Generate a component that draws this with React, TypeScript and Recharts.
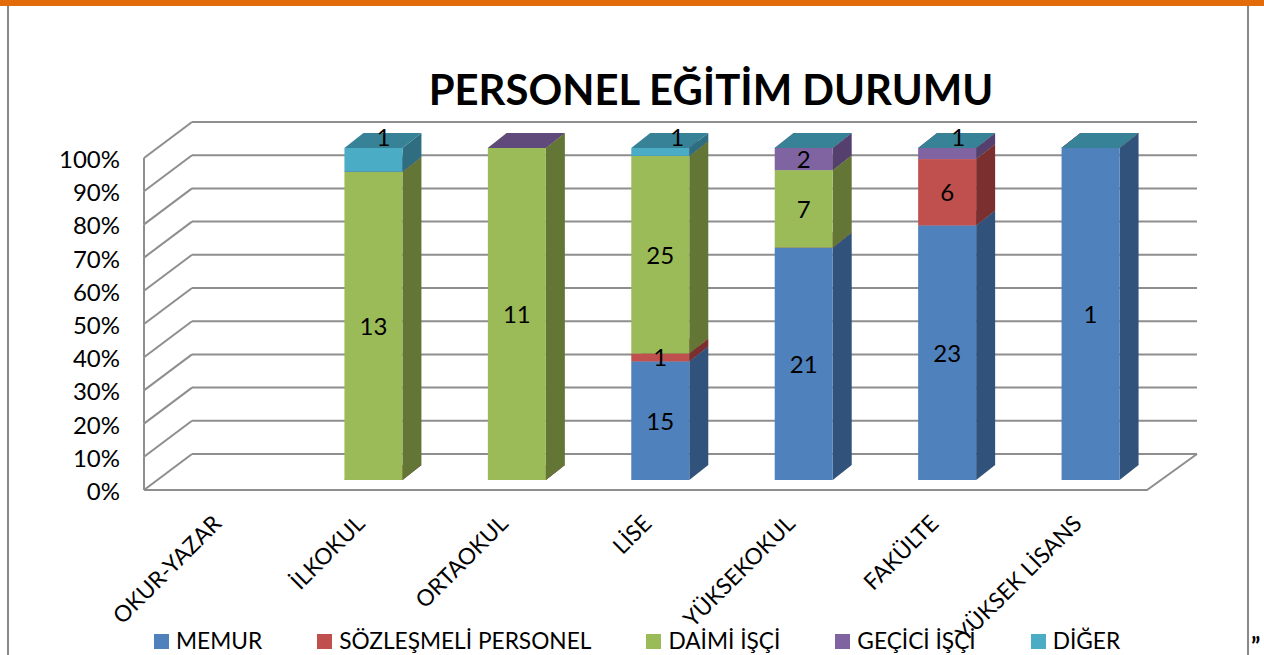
import React from 'react';
import { BarChart, Bar, XAxis, YAxis, CartesianGrid, Legend, LabelList } from 'recharts';

const categories = ['OKUR-YAZAR', 'İLKOKUL', 'ORTAOKUL', 'LİSE', 'YÜKSEKOKUL', 'FAKÜLTE', 'YÜKSEK LİSANS'];
const memur = [null, 0, 0, 15, 21, 23, 1];
const sozlesmeli = [null, 0, 0, 1, 0, 6, 0];
const daimi = [null, 13, 11, 25, 7, 0, 0];
const gecici = [null, 0, 0, 0, 2, 1, 0];
const diger = [null, 1, null, 1, 0, 0, 0];
const yTicks = [0, 0.1, 0.2, 0.3, 0.4, 0.5, 0.6, 0.7, 0.8, 0.9, 1];

const data = categories.map((name, i) => ({
  name,
  memur: memur[i],
  sozlesmeli: sozlesmeli[i],
  daimi: daimi[i],
  gecici: gecici[i],
  diger: diger[i],
}));

const seriesList = [
  { key: 'memur', name: 'MEMUR', fill: '#4F81BD', side: '#31527A', top: '#3F6897' },
  { key: 'sozlesmeli', name: 'SÖZLEŞMELİ PERSONEL', fill: '#C0504D', side: '#7B2F2E', top: '#9A403E' },
  { key: 'daimi', name: 'DAİMİ İŞÇİ', fill: '#9BBB59', side: '#647636', top: '#7C9647' },
  { key: 'gecici', name: 'GEÇİCİ İŞÇİ', fill: '#8064A2', side: '#553F6F', top: '#604A7B' },
  { key: 'diger', name: 'DİĞER', fill: '#4BACC6', side: '#2F6E80', top: '#388297' },
];

const FONT = 'Lato, sans-serif';
const GRID = '#8E8E8E';
const DEPTH_X = 19;
const DEPTH_Y = 15;
const PLOT_TOP = 148;

// sideways shift of the small "1" labels that Excel pushed onto the top face
const labelShift: Record<string, number> = { 'İLKOKUL': 10, 'LİSE': 17, 'FAKÜLTE': 11 };

const Box3D = ({ x, y, width, height, series, raw }: any) => {
  if (raw == null) return null;
  const r = x + width;
  const b = y + height;
  return (
    <g>
      <polygon points={`${r},${y} ${r + DEPTH_X},${y - DEPTH_Y} ${r + DEPTH_X},${b - DEPTH_Y} ${r},${b}`} fill={series.side} />
      <polygon points={`${x},${y} ${x + DEPTH_X},${y - DEPTH_Y} ${r + DEPTH_X},${y - DEPTH_Y} ${r},${y}`} fill={series.top} />
      <rect x={x} y={y} width={width} height={height} fill={series.fill} />
    </g>
  );
};

const GridLine = ({ y1 }: any) => {
  const isTop = y1 <= PLOT_TOP + 1;
  const isBottom = y1 >= 479;
  return (
    <g stroke={GRID} strokeWidth={2} fill="none">
      <line x1={192} x2={1197} y1={y1 - 26} y2={y1 - 26} />
      <line x1={144} x2={192} y1={y1 + 10} y2={y1 - 26} />
      {!isTop && <line x1={144} x2={144} y1={y1 + 10} y2={y1 + 10 - 33.2} />}
      {isBottom && <polyline points={`144,${y1 + 10} 1147,${y1 + 10} 1197,${y1 - 26}`} />}
    </g>
  );
};

const YTick = ({ y, payload }: any) => (
  <text x={120} y={y + 11} dy={9} textAnchor="end" fontFamily={FONT} fontSize={24} fill="#000">
    {`${Math.round(payload.value * 100)}%`}
  </text>
);

const XTick = ({ x, payload }: any) => (
  <text
    transform={`translate(${x - 7},${525}) rotate(-45)`}
    textAnchor="end"
    fontFamily={FONT}
    fontSize={22.6}
    fill="#000"
  >
    {payload.value}
  </text>
);

const makeLabel = (key: string) => (props: any) => {
  const { x, y, width, height, value, index } = props;
  if (!value) return null;
  const lifted = value === 1 && (key === 'gecici' || key === 'diger');
  const cx = x + width / 2 + (lifted ? labelShift[categories[index]] ?? 0 : 0);
  const cy = lifted ? PLOT_TOP - 11 : y + height / 2;
  return (
    <text x={cx} y={cy} dy={9} textAnchor="middle" fontFamily={FONT} fontSize={24} fill="#000">
      {value}
    </text>
  );
};

const LegendRow = ({ payload }: any) => (
  <div style={{ display: 'flex', gap: 55, paddingLeft: 154, fontFamily: FONT, fontSize: 22.7, color: '#000', lineHeight: '26px' }}>
    {(payload || []).map((item: any) => (
      <div key={item.value} style={{ display: 'flex', alignItems: 'center', gap: 7 }}>
        <span style={{ width: 15, height: 15, background: item.color, display: 'inline-block' }} />
        <span>{item.value}</span>
      </div>
    ))}
  </div>
);

export default function App() {
  return (
    <div style={{ position: 'fixed', left: 0, top: 0, width: 1264, height: 655, background: '#fff', overflow: 'hidden' }}>
      <div style={{ position: 'absolute', left: 0, top: 0, width: 1264, height: 6, background: '#E36C0A' }} />
      <div style={{ position: 'absolute', left: 7, top: 6, width: 2, height: 649, background: '#888' }} />
      <div style={{ position: 'absolute', left: 1247, top: 6, width: 2, height: 649, background: '#888' }} />
      <div style={{ position: 'absolute', left: 0, top: 62, width: 1422, textAlign: 'center', fontFamily: FONT, fontWeight: 700, fontSize: 41.8, lineHeight: '54px', color: '#000' }}>
        PERSONEL EĞİTİM DURUMU
      </div>
      <div style={{ position: 'absolute', left: 1251, top: 637, fontFamily: FONT, fontWeight: 700, fontSize: 24, lineHeight: '18px', color: '#000' }}>”</div>
      <div style={{ position: 'absolute', left: 0, top: 0 }}>
        <BarChart
          width={1264}
          height={655}
          data={data}
          stackOffset="expand"
          barSize={58}
          margin={{ top: 148, right: 102, left: 0, bottom: 21 }}
        >
          <CartesianGrid vertical={false} horizontal={(p: any) => <GridLine key={p.key} {...p} />} stroke={GRID} />
          <XAxis dataKey="name" height={130} axisLine={false} tickLine={false} interval={0} tick={<XTick />} />
          <YAxis width={158} domain={[0, 1]} ticks={yTicks} axisLine={false} tickLine={false} interval={0} tick={<YTick />} />
          <Legend
            content={<LegendRow />}
            itemSorter={null}
            wrapperStyle={{ left: 0, top: 628, width: 1264, height: 24 }}
          />
          {seriesList.map((s) => (
            <Bar
              key={s.key}
              dataKey={s.key}
              name={s.name}
              stackId="a"
              fill={s.fill}
              isAnimationActive={false}
              shape={(p: any) => <Box3D {...p} series={s} raw={p.payload[s.key]} />}
            >
              <LabelList dataKey={s.key} content={makeLabel(s.key)} />
            </Bar>
          ))}
        </BarChart>
      </div>
    </div>
  );
}
